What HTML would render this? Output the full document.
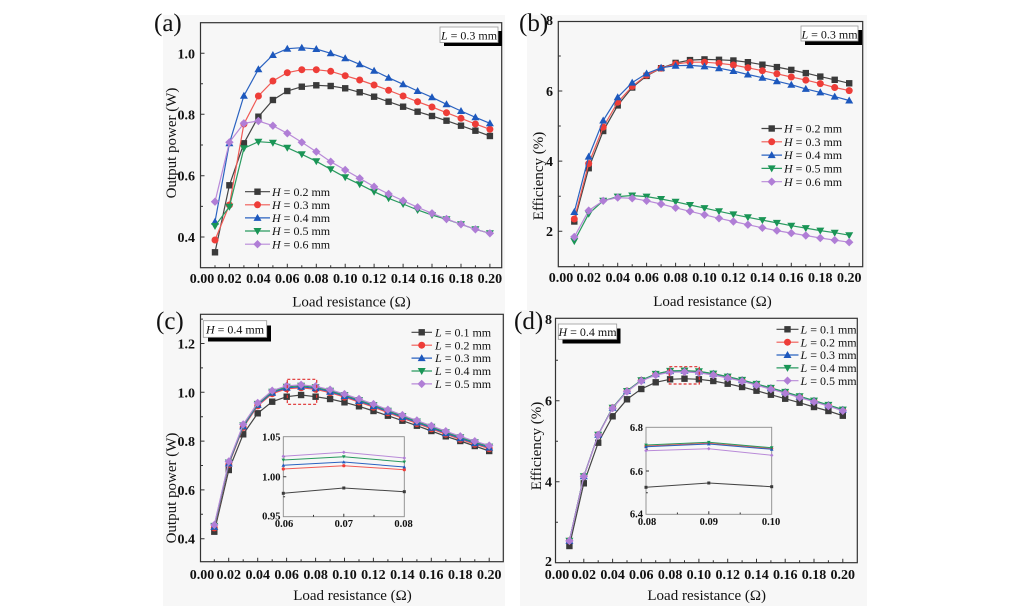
<!DOCTYPE html>
<html><head><meta charset="utf-8"><style>
html,body{margin:0;padding:0;background:#fff;}
svg{display:block;}
text{font-family:"Liberation Serif","DejaVu Serif",serif;fill:#111;}
.tk{font-size:14px;font-weight:bold;}
.tki{font-size:10.5px;font-weight:bold;}
.ti{font-size:15px;}
.pl{font-size:25px;}
.lg{font-size:12px;}
.ax{fill:none;stroke:#333;stroke-width:1.2;}
.tick{fill:none;stroke:#333;stroke-width:1;}
.s0{fill:none;stroke:#444;stroke-width:1.2;marker-start:url(#sq);marker-mid:url(#sq);marker-end:url(#sq);}
.s1{fill:none;stroke:#f05a55;stroke-width:1.2;marker-start:url(#ci);marker-mid:url(#ci);marker-end:url(#ci);}
.s2{fill:none;stroke:#2a62c0;stroke-width:1.2;marker-start:url(#tu);marker-mid:url(#tu);marker-end:url(#tu);}
.s3{fill:none;stroke:#2a9a60;stroke-width:1.2;marker-start:url(#td);marker-mid:url(#td);marker-end:url(#td);}
.s4{fill:none;stroke:#b98ad8;stroke-width:1.2;marker-start:url(#di);marker-mid:url(#di);marker-end:url(#di);}
.l0{fill:none;stroke:#444;stroke-width:1.2;marker-mid:url(#sq);}
.l1{fill:none;stroke:#f05a55;stroke-width:1.2;marker-mid:url(#ci);}
.l2{fill:none;stroke:#2a62c0;stroke-width:1.2;marker-mid:url(#tu);}
.l3{fill:none;stroke:#2a9a60;stroke-width:1.2;marker-mid:url(#td);}
.l4{fill:none;stroke:#b98ad8;stroke-width:1.2;marker-mid:url(#di);}
.i0{fill:none;stroke:#444;stroke-width:1;marker-start:url(#m0);marker-mid:url(#m0);marker-end:url(#m0);}
.i1{fill:none;stroke:#f05a55;stroke-width:1;marker-start:url(#m1);marker-mid:url(#m1);marker-end:url(#m1);}
.i2{fill:none;stroke:#2a62c0;stroke-width:1;marker-start:url(#m2);marker-mid:url(#m2);marker-end:url(#m2);}
.i3{fill:none;stroke:#2a9a60;stroke-width:1;marker-start:url(#m3);marker-mid:url(#m3);marker-end:url(#m3);}
.i4{fill:none;stroke:#b98ad8;stroke-width:1;marker-start:url(#m4);marker-mid:url(#m4);marker-end:url(#m4);}
.bg{fill:#f7f7f7;}
</style></head><body>
<svg width="1024" height="611" viewBox="0 0 1024 611" xmlns="http://www.w3.org/2000/svg">
<defs>
<marker id="sq" markerUnits="userSpaceOnUse" markerWidth="10" markerHeight="10" refX="5" refY="5" viewBox="0 0 10 10" overflow="visible"><rect x="1.8" y="1.8" width="6.4" height="6.4" fill="#3a3a3a"/></marker>
<marker id="ci" markerUnits="userSpaceOnUse" markerWidth="10" markerHeight="10" refX="5" refY="5" viewBox="0 0 10 10" overflow="visible"><circle cx="5" cy="5" r="3.5" fill="#ee3d38"/></marker>
<marker id="tu" markerUnits="userSpaceOnUse" markerWidth="10" markerHeight="10" refX="5" refY="5" viewBox="0 0 10 10" overflow="visible"><polygon points="5,1 9,8 1,8" fill="#1d58bd"/></marker>
<marker id="td" markerUnits="userSpaceOnUse" markerWidth="10" markerHeight="10" refX="5" refY="5" viewBox="0 0 10 10" overflow="visible"><polygon points="1,2 9,2 5,9" fill="#1a9556"/></marker>
<marker id="di" markerUnits="userSpaceOnUse" markerWidth="10" markerHeight="10" refX="5" refY="5" viewBox="0 0 10 10" overflow="visible"><polygon points="5,0.8 9.2,5 5,9.2 0.8,5" fill="#b07ed6"/></marker>
<marker id="m0" markerUnits="userSpaceOnUse" markerWidth="4" markerHeight="4" refX="2" refY="2" viewBox="0 0 4 4" overflow="visible"><rect x="0.5" y="0.5" width="3" height="3" fill="#3a3a3a"/></marker>
<marker id="m1" markerUnits="userSpaceOnUse" markerWidth="4" markerHeight="4" refX="2" refY="2" viewBox="0 0 4 4" overflow="visible"><circle cx="2" cy="2" r="1.6" fill="#ee3d38"/></marker>
<marker id="m2" markerUnits="userSpaceOnUse" markerWidth="4" markerHeight="4" refX="2" refY="2" viewBox="0 0 4 4" overflow="visible"><polygon points="2,0.2 3.8,3.4 0.2,3.4" fill="#1d58bd"/></marker>
<marker id="m3" markerUnits="userSpaceOnUse" markerWidth="4" markerHeight="4" refX="2" refY="2" viewBox="0 0 4 4" overflow="visible"><polygon points="0.2,0.6 3.8,0.6 2,3.8" fill="#1a9556"/></marker>
<marker id="m4" markerUnits="userSpaceOnUse" markerWidth="4" markerHeight="4" refX="2" refY="2" viewBox="0 0 4 4" overflow="visible"><polygon points="2,0.2 3.8,2 2,3.8 0.2,2" fill="#b07ed6"/></marker>
</defs>

<!-- panel backgrounds -->
<rect class="bg" x="163" y="15" width="342" height="295"/>
<rect class="bg" x="527" y="15" width="340" height="295"/>
<rect class="bg" x="163" y="310" width="342" height="296"/>
<rect class="bg" x="520" y="310" width="347" height="296"/>

<!-- ================= PANEL (a) ================= -->
<text class="pl" x="154" y="31">(a)</text>
<rect class="ax" x="200.5" y="22.7" width="301.2" height="245"/>
<path class="tick" d="M200.5,237h4M200.5,175.7h4M200.5,114.3h4M200.5,53.3h4M200.5,206.4h2.5M200.5,145h2.5M200.5,83.8h2.5
M229.4,267.7v-4M258.4,267.7v-4M287.3,267.7v-4M316.3,267.7v-4M345.2,267.7v-4M374.1,267.7v-4M403.1,267.7v-4M432,267.7v-4M461,267.7v-4M489.9,267.7v-4
M215,267.7v-2.5M243.9,267.7v-2.5M272.9,267.7v-2.5M301.8,267.7v-2.5M330.7,267.7v-2.5M359.7,267.7v-2.5M388.6,267.7v-2.5M417.6,267.7v-2.5M446.5,267.7v-2.5M475.4,267.7v-2.5"/>
<g class="tk" text-anchor="end">
<text x="195" y="242">0.4</text><text x="195" y="180.7">0.6</text><text x="195" y="119.3">0.8</text><text x="195" y="58.3">1.0</text>
</g>
<g class="tk" text-anchor="middle">
<text x="202" y="283">0.00</text><text x="229.4" y="283">0.02</text><text x="258.4" y="283">0.04</text><text x="287.3" y="283">0.06</text><text x="316.3" y="283">0.08</text><text x="345.2" y="283">0.10</text><text x="374.1" y="283">0.12</text><text x="403.1" y="283">0.14</text><text x="432" y="283">0.16</text><text x="461" y="283">0.18</text><text x="489.9" y="283">0.20</text>
</g>
<text class="ti" x="351.5" y="306.5" text-anchor="middle">Load resistance (Ω)</text>
<text class="ti" transform="translate(176,143) rotate(-90)" text-anchor="middle">Output power (W)</text>

<polyline class="s0" points="215,252.3 229.4,185.3 243.9,143.3 258.4,116.7 272.9,100 287.3,91 301.8,86.7 316.3,85.3 330.7,86 345.2,88.3 359.7,92.3 374.1,96.7 388.6,101.7 403.1,106.7 417.6,111.7 432,116 446.5,120.7 461,125.7 475.4,130.7 489.9,136"/>
<polyline class="s1" points="215,240 229.4,205 243.9,124 258.4,96 272.9,81 287.3,72.7 301.8,69.7 316.3,69.7 330.7,71.3 345.2,75.7 359.7,80 374.1,85 388.6,90.3 403.1,96 417.6,101.7 432,107 446.5,112.7 461,118.3 475.4,124 489.9,129.3"/>
<polyline class="s2" points="215,221.7 229.4,143.3 243.9,95.7 258.4,69.3 272.9,55 287.3,48.7 301.8,47.7 316.3,49 330.7,53.3 345.2,58.3 359.7,64.3 374.1,70.7 388.6,77.7 403.1,84.3 417.6,91 432,97.3 446.5,104.3 461,111 475.4,117.3 489.9,123.3"/>
<polyline class="s3" points="215,226 229.4,206.7 243.9,148.3 258.4,141.7 272.9,142.7 287.3,147.7 301.8,154.3 316.3,161.3 330.7,169.3 345.2,177.3 359.7,184.3 374.1,191.7 388.6,198.3 403.1,204 417.6,210 432,215 446.5,219.3 461,224.3 475.4,229.3 489.9,233.3"/>
<polyline class="s4" points="215,201.7 229.4,142.3 243.9,123.3 258.4,121 272.9,125.7 287.3,133.3 301.8,142.3 316.3,151.7 330.7,161.7 345.2,170 359.7,178.3 374.1,186.7 388.6,194 403.1,200.7 417.6,207.3 432,213.3 446.5,219 461,224.3 475.4,229.3 489.9,233.3"/>

<polyline class="l0" points="245,191.7 257.5,191.7 270,191.7"/><text class="lg" x="272" y="195.8"><tspan font-style="italic">H</tspan> = 0.2 mm</text>
<polyline class="l1" points="245,204.8 257.5,204.8 270,204.8"/><text class="lg" x="272" y="208.9"><tspan font-style="italic">H</tspan> = 0.3 mm</text>
<polyline class="l2" points="245,217.9 257.5,217.9 270,217.9"/><text class="lg" x="272" y="222"><tspan font-style="italic">H</tspan> = 0.4 mm</text>
<polyline class="l3" points="245,231 257.5,231 270,231"/><text class="lg" x="272" y="235.1"><tspan font-style="italic">H</tspan> = 0.5 mm</text>
<polyline class="l4" points="245,244.2 257.5,244.2 270,244.2"/><text class="lg" x="272" y="248.3"><tspan font-style="italic">H</tspan> = 0.6 mm</text>

<rect x="444" y="31" width="58" height="15" fill="#000"/>
<rect x="440" y="27" width="58" height="15.5" fill="#fff" stroke="#999" stroke-width="0.8"/>
<text class="lg" x="469" y="39.5" text-anchor="middle"><tspan font-style="italic">L</tspan> = 0.3 mm</text>

<!-- ================= PANEL (b) ================= -->
<text class="pl" x="519" y="31">(b)</text>
<rect class="ax" x="558.3" y="21.5" width="304.4" height="245.2"/>
<path class="tick" d="M558.3,231.2h4M558.3,161.1h4M558.3,91h4M558.3,196.2h2.5M558.3,126h2.5M558.3,56h2.5
M588.7,266.7v-4M617.7,266.7v-4M646.6,266.7v-4M675.6,266.7v-4M704.5,266.7v-4M733.4,266.7v-4M762.4,266.7v-4M791.3,266.7v-4M820.3,266.7v-4M849.2,266.7v-4
M574.3,266.7v-2.5M603.2,266.7v-2.5M632.2,266.7v-2.5M661.1,266.7v-2.5M690,266.7v-2.5M719,266.7v-2.5M747.9,266.7v-2.5M776.9,266.7v-2.5M805.8,266.7v-2.5M834.7,266.7v-2.5"/>
<g class="tk" text-anchor="end">
<text x="553" y="236.2">2</text><text x="553" y="166.1">4</text><text x="553" y="96">6</text><text x="553" y="25">8</text>
</g>
<g class="tk" text-anchor="middle">
<text x="561" y="282">0.00</text><text x="588.7" y="282">0.02</text><text x="617.7" y="282">0.04</text><text x="646.6" y="282">0.06</text><text x="675.6" y="282">0.08</text><text x="704.5" y="282">0.10</text><text x="733.4" y="282">0.12</text><text x="762.4" y="282">0.14</text><text x="791.3" y="282">0.16</text><text x="820.3" y="282">0.18</text><text x="849.2" y="282">0.20</text>
</g>
<text class="ti" x="712.5" y="306" text-anchor="middle">Load resistance (Ω)</text>
<text class="ti" transform="translate(543,176) rotate(-90)" text-anchor="middle">Efficiency (%)</text>

<polyline class="s0" points="574.3,221.5 588.7,168.2 603.2,131 617.7,105.4 632.2,87.5 646.6,75.9 661.1,68.2 675.6,62.9 690,60.1 704.5,59.4 719,59.8 733.4,60.5 747.9,62.2 762.4,64.7 776.9,67.1 791.3,69.9 805.8,73.1 820.3,76.6 834.7,79.8 849.2,83.3"/>
<polyline class="s1" points="574.3,219 588.7,163.6 603.2,127.1 617.7,102.2 632.2,86.4 646.6,75.2 661.1,68.2 675.6,64 690,62.2 704.5,62.2 719,63.3 733.4,65 747.9,67.8 762.4,70.7 776.9,73.8 791.3,77 805.8,80.1 820.3,83.6 834.7,87.5 849.2,90.6"/>
<polyline class="s2" points="574.3,212 588.7,156.6 603.2,120.5 617.7,97.3 632.2,82.6 646.6,73.5 661.1,67.8 675.6,65.7 690,65.4 704.5,66.4 719,68.2 733.4,71 747.9,74.5 762.4,77.7 776.9,81.2 791.3,84.7 805.8,88.9 820.3,92.4 834.7,96.6 849.2,100.5"/>
<polyline class="s3" points="574.3,241.1 588.7,213.8 603.2,200.8 617.7,196.6 632.2,195.5 646.6,196.6 661.1,199 675.6,201.8 690,205 704.5,208.1 719,211.3 733.4,214.4 747.9,217.3 762.4,220.1 776.9,222.9 791.3,225.7 805.8,228.1 820.3,230.6 834.7,232.7 849.2,235.2"/>
<polyline class="s4" points="574.3,236.9 588.7,210.6 603.2,200.8 617.7,197.6 632.2,198.3 646.6,200.8 661.1,204 675.6,207.8 690,211.3 704.5,214.8 719,218.3 733.4,221.5 747.9,224.7 762.4,227.8 776.9,230.6 791.3,233.1 805.8,235.5 820.3,238 834.7,240.1 849.2,242.2"/>

<polyline class="l0" points="761.5,128.5 771.7,128.5 782,128.5"/><text class="lg" x="784" y="132.6"><tspan font-style="italic">H</tspan> = 0.2 mm</text>
<polyline class="l1" points="761.5,141.8 771.7,141.8 782,141.8"/><text class="lg" x="784" y="145.9"><tspan font-style="italic">H</tspan> = 0.3 mm</text>
<polyline class="l2" points="761.5,155.1 771.7,155.1 782,155.1"/><text class="lg" x="784" y="159.2"><tspan font-style="italic">H</tspan> = 0.4 mm</text>
<polyline class="l3" points="761.5,168.4 771.7,168.4 782,168.4"/><text class="lg" x="784" y="172.5"><tspan font-style="italic">H</tspan> = 0.5 mm</text>
<polyline class="l4" points="761.5,181.7 771.7,181.7 782,181.7"/><text class="lg" x="784" y="185.8"><tspan font-style="italic">H</tspan> = 0.6 mm</text>

<rect x="805" y="30" width="57" height="15" fill="#000"/>
<rect x="801" y="26" width="57" height="15" fill="#fff" stroke="#999" stroke-width="0.8"/>
<text class="lg" x="829.5" y="38.3" text-anchor="middle"><tspan font-style="italic">L</tspan> = 0.3 mm</text>

<!-- ================= PANEL (c) ================= -->
<text class="pl" x="156" y="329">(c)</text>
<rect class="ax" x="200.5" y="314.3" width="302.8" height="247.4"/>
<path class="tick" d="M200.5,538.7h4M200.5,489.9h4M200.5,441.1h4M200.5,392.3h4M200.5,343.5h4M200.5,514.3h2.5M200.5,465.5h2.5M200.5,416.7h2.5M200.5,367.9h2.5M200.5,319.1h2.5
M228.7,561.7v-4M257.7,561.7v-4M286.6,561.7v-4M315.6,561.7v-4M344.5,561.7v-4M373.4,561.7v-4M402.4,561.7v-4M431.3,561.7v-4M460.3,561.7v-4M489.2,561.7v-4
M214.3,561.7v-2.5M243.2,561.7v-2.5M272.2,561.7v-2.5M301.1,561.7v-2.5M330.1,561.7v-2.5M359,561.7v-2.5M387.9,561.7v-2.5M416.9,561.7v-2.5M445.8,561.7v-2.5M474.8,561.7v-2.5"/>
<g class="tk" text-anchor="end">
<text x="195" y="543.7">0.4</text><text x="195" y="494.9">0.6</text><text x="195" y="446.1">0.8</text><text x="195" y="397.3">1.0</text><text x="195" y="348.5">1.2</text>
</g>
<g class="tk" text-anchor="middle">
<text x="202" y="579">0.00</text><text x="228.7" y="579">0.02</text><text x="257.7" y="579">0.04</text><text x="286.6" y="579">0.06</text><text x="315.6" y="579">0.08</text><text x="344.5" y="579">0.10</text><text x="373.4" y="579">0.12</text><text x="402.4" y="579">0.14</text><text x="431.3" y="579">0.16</text><text x="460.3" y="579">0.18</text><text x="489.2" y="579">0.20</text>
</g>
<text class="ti" x="352.5" y="600" text-anchor="middle">Load resistance (Ω)</text>
<text class="ti" transform="translate(176,488) rotate(-90)" text-anchor="middle">Output power (W)</text>

<polyline class="s0" points="214.3,531.7 228.8,470 243.2,434.3 257.7,413.3 272.2,401.7 286.7,396.7 301.1,395 315.6,396.7 330.1,399 344.5,402.3 359,406.3 373.5,411 387.9,415.7 402.4,420.7 416.9,425.7 431.4,431 445.8,436.3 460.3,441 474.8,446 489.2,451"/>
<polyline class="s1" points="214.3,527.9 228.8,464.5 243.2,427.4 257.7,405.9 272.2,393.7 286.7,388.8 301.1,387.8 315.6,389.3 330.1,392.7 344.5,397.1 359,402 373.5,407.1 387.9,412.7 402.4,418.1 416.9,423.5 431.4,428.8 445.8,434.2 460.3,439.3 474.8,444.2 489.2,448.6"/>
<polyline class="s2" points="214.3,526.9 228.8,463.5 243.2,426.4 257.7,404.9 272.2,392.7 286.7,387.8 301.1,386.8 315.6,388.3 330.1,391.7 344.5,396.1 359,401 373.5,406.1 387.9,411.7 402.4,417.1 416.9,422.5 431.4,427.8 445.8,433.2 460.3,438.3 474.8,443.2 489.2,447.6"/>
<polyline class="s3" points="214.3,525.9 228.8,462.5 243.2,425.4 257.7,403.9 272.2,391.7 286.7,386.8 301.1,385.8 315.6,387.3 330.1,390.7 344.5,395.1 359,400 373.5,405.1 387.9,410.7 402.4,416.1 416.9,421.5 431.4,426.8 445.8,432.2 460.3,437.3 474.8,442.2 489.2,446.6"/>
<polyline class="s4" points="214.3,524.9 228.8,461.5 243.2,424.4 257.7,402.9 272.2,390.7 286.7,385.8 301.1,384.8 315.6,386.3 330.1,389.7 344.5,394.1 359,399 373.5,404.1 387.9,409.7 402.4,415.1 416.9,420.5 431.4,425.8 445.8,431.2 460.3,436.3 474.8,441.2 489.2,445.6"/>

<rect x="287.3" y="379.3" width="29.4" height="25" fill="none" stroke="#e03030" stroke-width="1.2" stroke-dasharray="3,2"/>

<polyline class="l0" points="411.5,332.3 421.7,332.3 432,332.3"/><text class="lg" x="435" y="336.4"><tspan font-style="italic">L</tspan> = 0.1 mm</text>
<polyline class="l1" points="411.5,345.2 421.7,345.2 432,345.2"/><text class="lg" x="435" y="349.3"><tspan font-style="italic">L</tspan> = 0.2 mm</text>
<polyline class="l2" points="411.5,358.1 421.7,358.1 432,358.1"/><text class="lg" x="435" y="362.2"><tspan font-style="italic">L</tspan> = 0.3 mm</text>
<polyline class="l3" points="411.5,371 421.7,371 432,371"/><text class="lg" x="435" y="375.1"><tspan font-style="italic">L</tspan> = 0.4 mm</text>
<polyline class="l4" points="411.5,383.9 421.7,383.9 432,383.9"/><text class="lg" x="435" y="388"><tspan font-style="italic">L</tspan> = 0.5 mm</text>

<rect x="208" y="325.5" width="63" height="16" fill="#000"/>
<rect x="203.3" y="320.7" width="63.4" height="16.6" fill="#fff" stroke="#999" stroke-width="0.8"/>
<text class="lg" x="235" y="333.4" text-anchor="middle"><tspan font-style="italic">H</tspan> = 0.4 mm</text>

<!-- inset (c) -->
<rect x="283.3" y="436.7" width="121" height="80" fill="#f7f7f7" stroke="#8a8a8a" stroke-width="0.9"/>
<path class="tick" d="M283.3,476.7h3M283.3,456.7h1.8M283.3,496.7h1.8M343.8,516.7v-3M313.5,516.7v-1.8M374,516.7v-1.8"/>
<g class="tki" text-anchor="end">
<text x="280.5" y="440.5">1.05</text><text x="280.5" y="480.5">1.00</text><text x="280.5" y="519.5">0.95</text>
</g>
<g class="tki" text-anchor="middle">
<text x="284" y="527">0.06</text><text x="343.8" y="527">0.07</text><text x="403.5" y="527">0.08</text>
</g>
<polyline class="i0" points="283.3,493.3 343.8,488 404.3,491.7"/>
<polyline class="i1" points="283.3,469 343.8,465.7 404.3,469.7"/>
<polyline class="i2" points="283.3,465.3 343.8,462 404.3,467"/>
<polyline class="i3" points="283.3,460 343.8,456.7 404.3,462"/>
<polyline class="i4" points="283.3,456.3 343.8,452.3 404.3,458"/>

<!-- ================= PANEL (d) ================= -->
<text class="pl" x="514" y="329">(d)</text>
<rect class="ax" x="555.5" y="318.3" width="301.8" height="244.4"/>
<path class="tick" d="M555.5,481.7h4M555.5,400.7h4M555.5,522.2h2.5M555.5,441.2h2.5M555.5,360.2h2.5
M583.8,562.7v-4M612.6,562.7v-4M641.3,562.7v-4M670.1,562.7v-4M698.9,562.7v-4M727.7,562.7v-4M756.5,562.7v-4M785.2,562.7v-4M814,562.7v-4M842.8,562.7v-4
M569.4,562.7v-2.5M598.2,562.7v-2.5M627,562.7v-2.5M655.7,562.7v-2.5M684.5,562.7v-2.5M713.3,562.7v-2.5M742.1,562.7v-2.5M770.9,562.7v-2.5M799.6,562.7v-2.5M828.4,562.7v-2.5"/>
<g class="tk" text-anchor="end">
<text x="552" y="566">2</text><text x="552" y="486.7">4</text><text x="552" y="405.7">6</text><text x="552" y="324">8</text>
</g>
<g class="tk" text-anchor="middle">
<text x="557" y="579">0.00</text><text x="583.8" y="579">0.02</text><text x="612.6" y="579">0.04</text><text x="641.3" y="579">0.06</text><text x="670.1" y="579">0.08</text><text x="698.9" y="579">0.10</text><text x="727.7" y="579">0.12</text><text x="756.5" y="579">0.14</text><text x="785.2" y="579">0.16</text><text x="814" y="579">0.18</text><text x="842.8" y="579">0.20</text>
</g>
<text class="ti" x="706.7" y="600" text-anchor="middle">Load resistance (Ω)</text>
<text class="ti" transform="translate(541,446) rotate(-90)" text-anchor="middle">Efficiency (%)</text>

<polyline class="s0" points="569.4,546 583.8,483.3 598.2,442.7 612.6,416.3 627,399.3 641.3,389 655.7,382.3 670.1,379.3 684.5,378.7 698.9,379.3 713.3,381 727.7,383.7 742.1,387 756.5,390.7 770.9,394.7 785.2,398.7 799.6,402.7 814,407 828.4,411 842.8,415.7"/>
<polyline class="s1" points="569.4,540.7 583.8,476.3 598.2,434.7 612.6,407.7 627,391 641.3,380.3 655.7,374.3 670.1,371.3 684.5,371 698.9,371.7 713.3,374 727.7,377 742.1,380.3 756.5,384.3 770.9,388.3 785.2,392.3 799.6,396.7 814,401 828.4,405.3 842.8,410"/>
<polyline class="s2" points="569.4,540.7 583.8,476.3 598.2,434.7 612.6,407.7 627,391 641.3,380.3 655.7,374.1 670.1,371.1 684.5,370.8 698.9,371.5 713.3,373.8 727.7,376.8 742.1,380.1 756.5,384.1 770.9,388.1 785.2,392.1 799.6,396.5 814,400.8 828.4,405.1 842.8,409.8"/>
<polyline class="s3" points="569.4,540.7 583.8,476.3 598.2,434.7 612.6,407.7 627,391 641.3,380.3 655.7,373.9 670.1,370.9 684.5,370.6 698.9,371.3 713.3,373.6 727.7,376.6 742.1,379.9 756.5,383.9 770.9,387.9 785.2,391.9 799.6,396.3 814,400.6 828.4,404.9 842.8,409.6"/>
<polyline class="s4" points="569.4,540.9 583.8,476.5 598.2,435 612.6,408.2 627,391.6 641.3,381 655.7,375.1 670.1,372.2 684.5,371.9 698.9,372.8 713.3,375 727.7,378 742.1,381.2 756.5,385.2 770.9,389.2 785.2,393.2 799.6,397.5 814,401.8 828.4,406.1 842.8,410.8"/>

<rect x="669.3" y="366.7" width="30" height="17.3" fill="none" stroke="#e03030" stroke-width="1.2" stroke-dasharray="3,2"/>

<polyline class="l0" points="776.5,329.3 787.5,329.3 798.5,329.3"/><text class="lg" x="800.5" y="333.4"><tspan font-style="italic">L</tspan> = 0.1 mm</text>
<polyline class="l1" points="776.5,342.2 787.5,342.2 798.5,342.2"/><text class="lg" x="800.5" y="346.3"><tspan font-style="italic">L</tspan> = 0.2 mm</text>
<polyline class="l2" points="776.5,355 787.5,355 798.5,355"/><text class="lg" x="800.5" y="359.1"><tspan font-style="italic">L</tspan> = 0.3 mm</text>
<polyline class="l3" points="776.5,367.9 787.5,367.9 798.5,367.9"/><text class="lg" x="800.5" y="372"><tspan font-style="italic">L</tspan> = 0.4 mm</text>
<polyline class="l4" points="776.5,380.7 787.5,380.7 798.5,380.7"/><text class="lg" x="800.5" y="384.8"><tspan font-style="italic">L</tspan> = 0.5 mm</text>

<rect x="562.5" y="328.5" width="58" height="15" fill="#000"/>
<rect x="558.3" y="324" width="58.4" height="15.3" fill="#fff" stroke="#999" stroke-width="0.8"/>
<text class="lg" x="587.5" y="336.2" text-anchor="middle"><tspan font-style="italic">H</tspan> = 0.4 mm</text>

<!-- inset (d) -->
<rect x="646" y="427.3" width="125.7" height="87" fill="#f7f7f7" stroke="#8a8a8a" stroke-width="0.9"/>
<path class="tick" d="M646,471h3M646,449.2h1.8M646,492.7h1.8M708.8,514.3v-3M677.4,514.3v-1.8M740.2,514.3v-1.8"/>
<g class="tki" text-anchor="end">
<text x="643" y="431">6.8</text><text x="643" y="474.8">6.6</text><text x="643" y="517.5">6.4</text>
</g>
<g class="tki" text-anchor="middle">
<text x="647" y="525">0.08</text><text x="708.8" y="525">0.09</text><text x="771" y="525">0.10</text>
</g>
<polyline class="i0" points="646,487.3 708.8,483 771.7,486.7"/>
<polyline class="i1" points="646,446 708.8,443.3 771.7,448.5"/>
<polyline class="i2" points="646,446.7 708.8,444 771.7,449.3"/>
<polyline class="i3" points="646,445 708.8,442.3 771.7,447.7"/>
<polyline class="i4" points="646,450.7 708.8,448.7 771.7,455.3"/>
</svg>
</body></html>
